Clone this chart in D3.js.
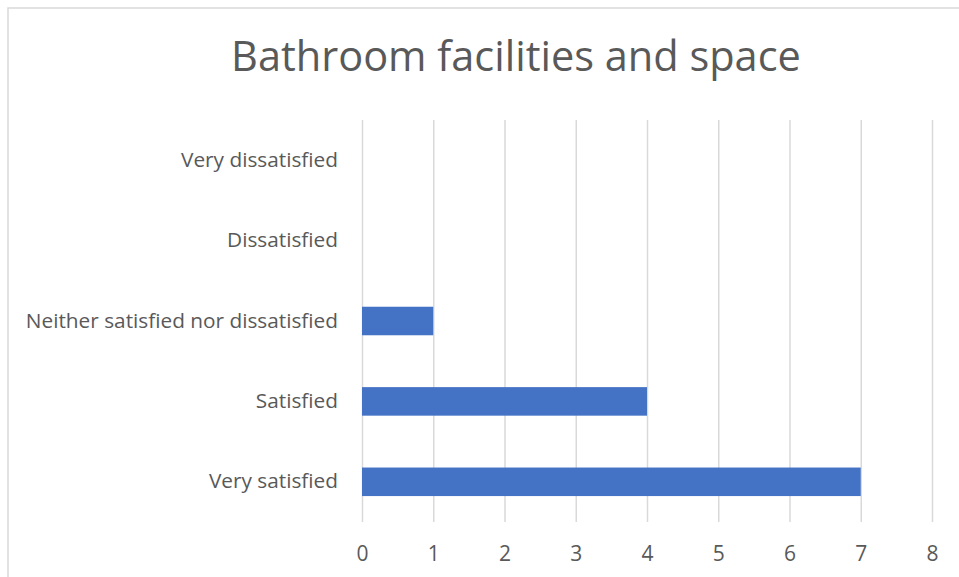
<!DOCTYPE html>
<html><head><meta charset="utf-8">
<script src="https://cdn.jsdelivr.net/npm/d3@7"></script>
<style>body{margin:0;background:#fff;} svg{display:block;}</style>
</head><body>
<svg id="c" width="959" height="577"></svg>
<script>
const title = "Bathroom facilities and space";
const categories = ["Very dissatisfied","Dissatisfied","Neither satisfied nor dissatisfied","Satisfied","Very satisfied"];
const values = [0,0,1,4,7];
const xTicks = [0,1,2,3,4,5,6,7,8];

const svg = d3.select("#c");
const font = "'Open Sans', sans-serif";
const m = {left:362, right:932, top:120, bottom:522};

svg.append("rect").attr("x",8).attr("y",8).attr("width",970).attr("height",600)
  .attr("fill","#fff").attr("stroke","#d9d9d9").attr("stroke-width",1.5);

const x = d3.scaleLinear().domain([0,8]).range([m.left,m.right]);
const y = d3.scaleBand().domain(categories).range([m.top,m.bottom]).paddingInner(0.645).paddingOuter(0.3225);

const xAxis = d3.axisBottom(x).tickValues(xTicks).tickSize(-(m.bottom-m.top)).tickFormat(d3.format("d")).tickPadding(24);
const gx = svg.append("g").attr("transform",`translate(0,${m.bottom})`).call(xAxis);
gx.select(".domain").remove();
gx.selectAll(".tick line").attr("stroke","#d9d9d9").attr("stroke-width",1.5);
gx.selectAll(".tick text").attr("fill","#595959").style("font-family",font).style("font-size","21px");

const yAxis = d3.axisLeft(y).tickSize(0).tickPadding(24);
const gy = svg.append("g").attr("transform",`translate(${m.left},0)`).call(yAxis);
gy.select(".domain").remove();
gy.selectAll(".tick text").attr("fill","#595959").style("font-family",font).style("font-size","20.8px");

svg.append("g").selectAll("rect").data(categories).join("rect")
  .attr("x",x(0)).attr("y",d=>y(d)).attr("height",y.bandwidth())
  .attr("width",(d,i)=>x(values[i])-x(0)).attr("fill","#4472c4");

svg.append("text").attr("x",516).attr("y",71).attr("text-anchor","middle")
  .attr("fill","#595959").style("font-family",font).style("font-size","41.5px").text(title);
</script>
</body></html>
